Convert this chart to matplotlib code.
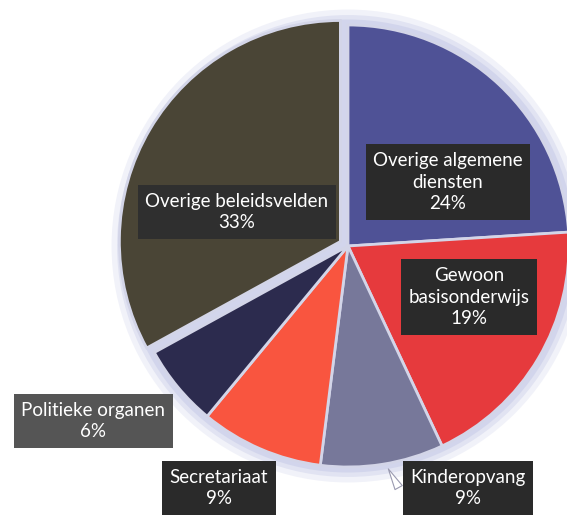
import matplotlib
matplotlib.use("Agg")
import matplotlib.pyplot as plt
import numpy as np
from matplotlib.patches import Circle

categories = ["Overige algemene\ndiensten", "Gewoon\nbasisonderwijs", "Kinderopvang",
              "Secretariaat", "Politieke organen", "Overige beleidsvelden"]
values = [24, 19, 9, 9, 6, 33]
colors = ["#4F5296", "#E63A3D", "#77789A", "#F9553F", "#2C2B4E", "#4A4536"]
explode = [0, 0, 0, 0, 0, 0.04]

# label box centres in pixel coordinates (x from left, y from top)
label_px = [(448, 182), (469, 297), (468, 488), (219, 488), (93, 421), (237, 212)]
box_colors = ["#2a2a2a", "#2a2a2a", "#2a2a2a", "#2a2a2a", "#555555", "#2f2f2f"]

W, H = 567, 522
CX, CY, R = 348, 246, 221

fig = plt.figure(figsize=(W / 100, H / 100), dpi=100)
ax = fig.add_axes([0, 0, 1, 1])

# soft lavender halo (scan glow)
for r, a in [(1.07, 0.25), (1.045, 0.4), (1.025, 0.6)]:
    ax.add_patch(Circle((0, 0), r, color="#c9cde8", alpha=a, lw=0, zorder=0))

wedges, _ = ax.pie(values, colors=colors, startangle=90, counterclock=False,
                   explode=explode, radius=1.0,
                   wedgeprops=dict(edgecolor="#d3d5e8", linewidth=2))
for w in wedges:
    w.set_zorder(2)

ax.set_aspect("auto")
ax.set_xlim(-CX / R, (W - CX) / R)
ax.set_ylim((CY - H) / R, CY / R)
ax.axis("off")

# pointer from Kinderopvang label to its slice
k = 2
mid = np.deg2rad((wedges[k].theta1 + wedges[k].theta2) / 2)
px, py = np.cos(mid) * 1.0, np.sin(mid) * 1.0
bx, by = (400 - CX) / R, (CY - 490) / R
ax.annotate("", xy=(px + 0.02, py - 0.01), xytext=(bx, by),
            arrowprops=dict(arrowstyle="wedge,tail_width=0.6", fc="white",
                            ec="#9a9ab0", lw=0.8), zorder=3)

for (lx, ly), lab, v, bc in zip(label_px, categories, values, box_colors):
    fig.text(lx / W, 1 - ly / H, f"{lab}\n{v}%", ha="center", va="center",
             color="white", fontsize=13.5, family="Lato", linespacing=1.35,
             bbox=dict(boxstyle="square,pad=0.4", fc=bc, ec="none"), zorder=5)

fig.savefig("out.png", dpi=100, facecolor="white")
